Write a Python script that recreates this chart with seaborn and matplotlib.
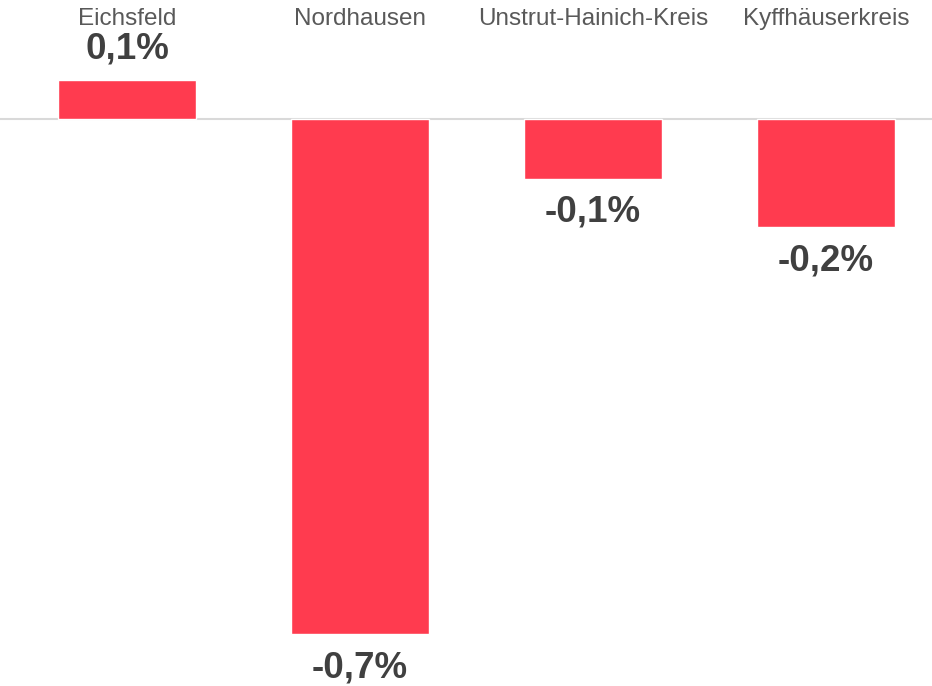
import matplotlib
matplotlib.use("Agg")
import matplotlib.pyplot as plt
import matplotlib.transforms as mtransforms
import seaborn as sns

# data
regions = ["Eichsfeld", "Nordhausen", "Unstrut-Hainich-Kreis", "Kyffhäuserkreis"]
values = [0.053, -0.70, -0.081, -0.147]
value_labels = ["0,1%", "-0,7%", "-0,1%", "-0,2%"]

sns.set_style("white")
plt.rcParams["font.family"] = ["Liberation Sans", "DejaVu Sans"]

fig = plt.figure(figsize=(9.32, 6.86), dpi=100)
ax = fig.add_axes([0, 0, 1, 1])

sns.barplot(x=regions, y=values, color="#ff3b4f", saturation=1, width=0.59, ax=ax)

# baseline
ax.axhline(0, color="#d9d9d9", lw=1.5, zorder=0)

ax.set_xlim(-127 / 233, (932 - 127) / 233)
ax.set_ylim(-(686 - 119) / 736, 119 / 736)
ax.axis("off")

# category names along the top
trans = mtransforms.blended_transform_factory(ax.transData, ax.transAxes)
for i, name in enumerate(regions):
    ax.text(i, 1 - 19 / 686, name, transform=trans, ha="center", va="center",
            fontsize=17.5, color="#595959")

# value labels
for i, (v, lab) in enumerate(zip(values, value_labels)):
    off = 22 if v >= 0 else -24
    ax.annotate(lab, (i, v), xytext=(0, off), textcoords="offset points",
                ha="center", va="center", fontsize=26.5, fontweight="bold",
                color="#404040")

fig.savefig("out.png", dpi=100)
